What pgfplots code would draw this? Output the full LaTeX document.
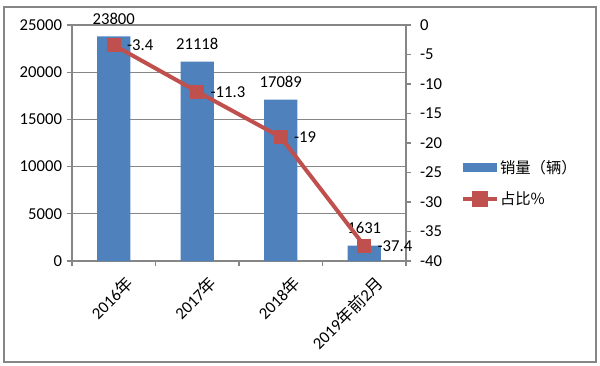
\documentclass[border=0pt]{standalone}
\usepackage{pgfplots}
\pgfplotsset{compat=1.18}
\usepackage{fontspec}
\setmainfont{Carlito}
\newfontfamily\cjk{Noto Sans CJK SC}
\definecolor{barblue}{HTML}{4F81BD}
\definecolor{linered}{HTML}{C0504D}
\definecolor{axgray}{HTML}{868686}
\begin{document}
\begin{tikzpicture}
\path[use as bounding box] (0pt,0pt) rectangle (450pt,273.75pt);
\draw[axgray, line width=0.8pt] (3pt,2.25pt) rectangle (447pt,268.5pt);
\begin{axis}[
  at={(54pt,78pt)}, anchor=south west, scale only axis,
  width=250.5pt, height=177pt,
  xmin=-0.5, xmax=3.5, ymin=0, ymax=25000,
  axis x line*=bottom, axis y line*=left,
  axis line style={axgray, line width=0.8pt},
  xtick={0,1,2,3},
  xticklabels={2016{\cjk 年},2017{\cjk 年},2018{\cjk 年},2019{\cjk 年前}2{\cjk 月}},
  x tick label style={rotate=45, anchor=north east, font=\fontsize{12.5}{14}\selectfont, inner sep=1pt, xshift=2pt, yshift=-9pt},
  major x tick style={draw=none},
  minor xtick={-0.5,0.5,1.5,2.5,3.5},
  minor tick length=4pt,
  ytick={0,5000,10000,15000,20000,25000},
  tick align=outside, major tick length=4pt,
  tick style={axgray, line width=0.8pt},
  ymajorgrids, grid style={axgray, line width=0.8pt},
  scaled y ticks=false,
  /pgf/number format/assume math mode=true,
  /pgf/number format/set thousands separator={},
  y tick label style={font=\fontsize{12.5}{14}\selectfont},
  point meta=explicit symbolic,
  nodes near coords,
  every node near coord/.append style={font=\fontsize{12.5}{14}\selectfont, yshift=5.5pt, text=black},
]
\addplot[ybar, bar width=0.4, fill=barblue, draw=none] coordinates {
  (0,23800) [23800]
  (1,21118) [21118]
  (2,17089) [17089]
  (3,1631) [1631]
};
\end{axis}
\begin{axis}[
  at={(54pt,78pt)}, anchor=south west, scale only axis,
  width=250.5pt, height=177pt,
  xmin=-0.5, xmax=3.5, ymin=-40, ymax=0,
  axis x line=none, axis y line*=right,
  axis line style={axgray, line width=0.8pt},
  ytick={-40,-35,...,0},
  tick align=outside, major tick length=4pt,
  tick style={axgray, line width=0.8pt},
  /pgf/number format/assume math mode=true,
  y tick label style={font=\fontsize{12.5}{14}\selectfont, xshift=3pt},
  point meta=explicit symbolic,
  nodes near coords,
  every node near coord/.append style={font=\fontsize{12.5}{14}\selectfont, anchor=west, xshift=8pt, text=black, inner sep=2pt},
  legend style={draw=none, fill=none, at={(1.165,0.33)}, anchor=west,
    font=\cjk\fontsize{11.5}{13}\selectfont, row sep=10pt, inner sep=0pt,
    nodes={inner sep=1pt}},
  legend cell align=left,
]
\addlegendimage{legend image code/.code={\fill[barblue] (0pt,-3pt) rectangle (25pt,3pt);}}
\addlegendentry{销量（辆）}
\addplot[linered, line width=3pt, mark=square*, mark size=4.8pt, mark options={fill=linered, line width=0pt},
  legend image code/.code={\draw[linered, line width=3pt] (0pt,0pt) -- (25pt,0pt); \fill[linered] (8pt,-4.5pt) rectangle (17pt,4.5pt);}]
coordinates {
  (0,-3.4) [{-3.4}]
  (1,-11.3) [{-11.3}]
  (2,-19) [{-19}]
  (3,-37.4) [{-37.4}]
};
\addlegendentry{占比\%}
\end{axis}
\end{tikzpicture}
\end{document}
